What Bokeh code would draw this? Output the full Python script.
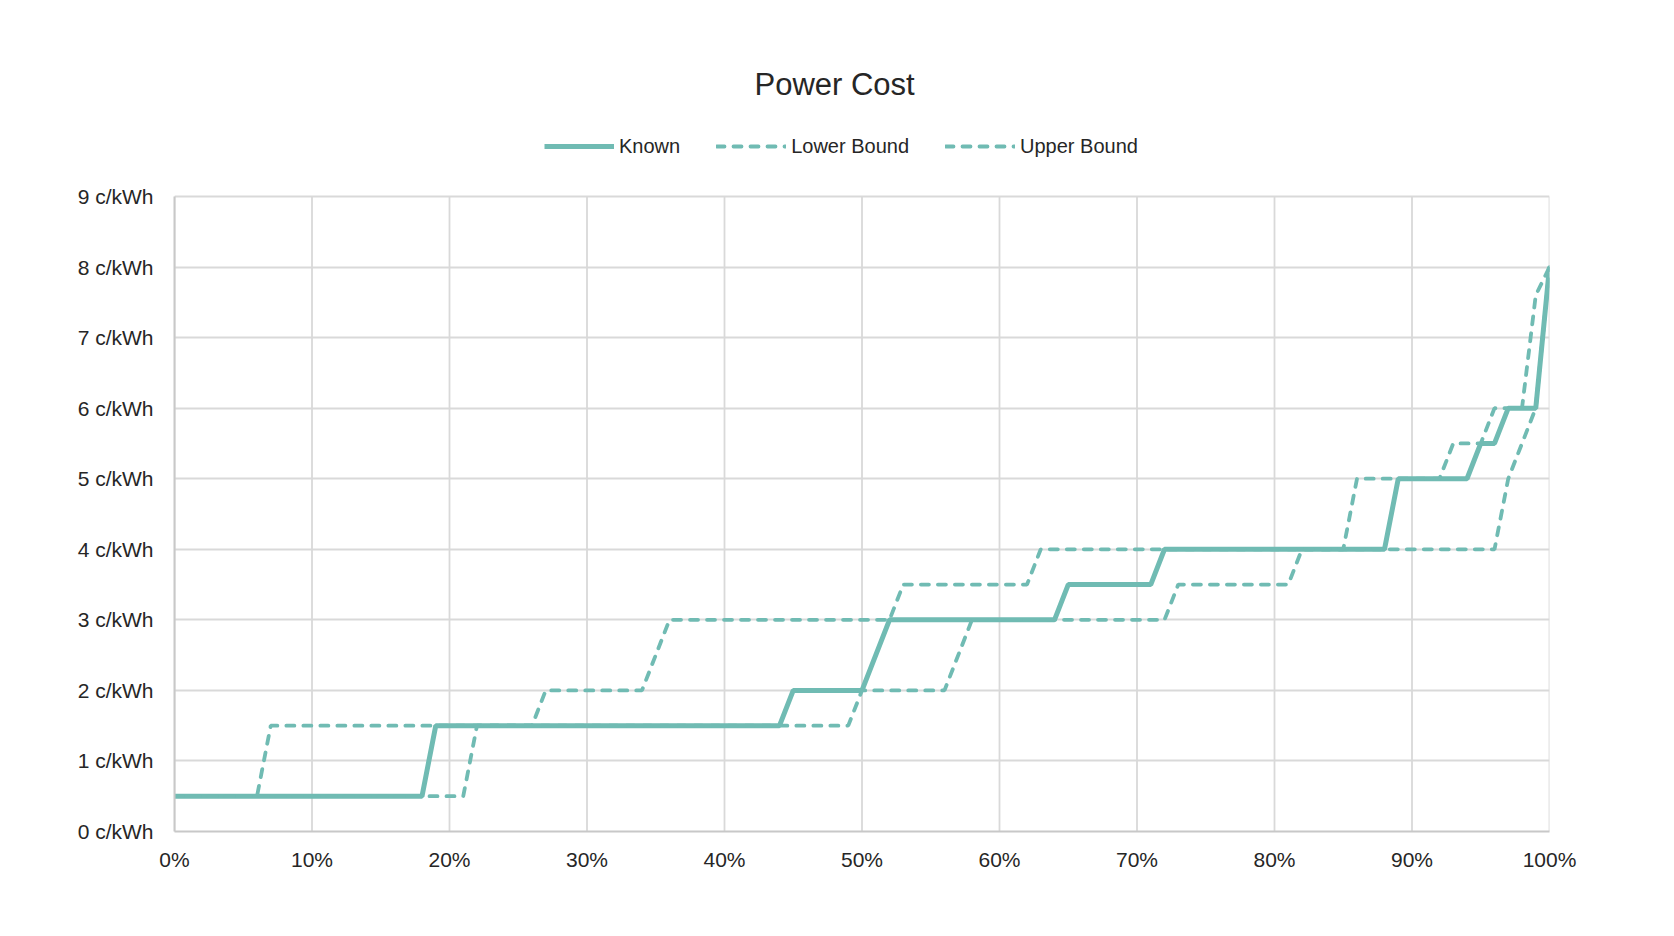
from bokeh.plotting import figure
from bokeh.models import Legend, LegendItem, Title, PrintfTickFormatter, FixedTicker, Range1d
from bokeh.embed import file_html
from bokeh.resources import INLINE

# ---- data (percent of time, c/kWh) ----
known_x = [0, 18, 19, 44, 45, 50, 52, 64, 65, 71, 72, 88, 89, 94, 95, 96, 97, 99, 100]
known_y = [0.5, 0.5, 1.5, 1.5, 2, 2, 3, 3, 3.5, 3.5, 4, 4, 5, 5, 5.5, 5.5, 6, 6, 8]

lower_x = [0, 21, 22, 49, 50, 56, 58, 72, 73, 81, 82, 96, 97, 98, 99, 100]
lower_y = [0.5, 0.5, 1.5, 1.5, 2, 2, 3, 3, 3.5, 3.5, 4, 4, 5, 5.5, 6, 8]

upper_x = [0, 6, 7, 26, 27, 34, 36, 52, 53, 62, 63, 85, 86, 92, 93, 95, 96, 98, 99, 100]
upper_y = [0.5, 0.5, 1.5, 1.5, 2, 2, 3, 3, 3.5, 3.5, 4, 4, 5, 5, 5.5, 5.5, 6, 6, 7.6, 8]

x_ticks = [0, 10, 20, 30, 40, 50, 60, 70, 80, 90, 100]
y_ticks = [0, 1, 2, 3, 4, 5, 6, 7, 8, 9]

FONT = "Liberation Sans"
TEAL = "#70bbb3"
TXT = "#262626"
GRID = "#d9d9d9"

# layout (pixels)
W, H = 1666, 930
LEFT, RIGHT, BOTTOM = 174, 117, 99
TOP_FRAME = 125          # frame extended upward to host the legend
PLOT_TOP = 196           # where the 9 c/kWh line sits
FW = W - LEFT - RIGHT
FH = H - TOP_FRAME - BOTTOM
y_max = y_ticks[-1]
y_top = y_max * FH / (H - BOTTOM - PLOT_TOP)

p = figure(width=W, height=H, output_backend="svg", toolbar_location=None,
           x_range=Range1d(x_ticks[0], x_ticks[-1]), y_range=Range1d(0, y_top),
           min_border_left=LEFT, min_border_right=RIGHT, min_border_top=TOP_FRAME,
           min_border_bottom=BOTTOM, frame_width=FW, frame_height=FH)
p.background_fill_color = "white"
p.border_fill_color = "white"
p.outline_line_color = None

# vertical grid lines limited to the value area
p.xgrid.visible = False
p.segment(x0=x_ticks, y0=[y_ticks[0]] * len(x_ticks), x1=x_ticks, y1=[y_max] * len(x_ticks),
          line_color=GRID, line_width=1.8)

r_known = p.line(known_x, known_y, line_color=TEAL, line_width=5)
r_lower = p.line(lower_x, lower_y, line_color=TEAL, line_width=3.8, line_dash="8 9", line_cap="round")
r_upper = p.line(upper_x, upper_y, line_color=TEAL, line_width=3.8, line_dash="8 9", line_cap="round")

p.xaxis.ticker = FixedTicker(ticks=x_ticks)
p.yaxis.ticker = FixedTicker(ticks=y_ticks)
p.yaxis.bounds = (y_ticks[0], y_max)
p.xaxis.formatter = PrintfTickFormatter(format="%d%%")
p.yaxis.formatter = PrintfTickFormatter(format="%d c/kWh")
for ax in (p.xaxis, p.yaxis):
    ax.major_tick_line_color = None
    ax.minor_tick_line_color = None
    ax.axis_line_color = "#c8c8c8"
    ax.axis_line_width = 2
    ax.major_label_text_font = FONT
    ax.major_label_text_font_size = "21px"
    ax.major_label_text_color = TXT
p.xaxis.major_label_standoff = 10
p.yaxis.major_label_standoff = 15
p.ygrid.grid_line_color = GRID
p.ygrid.grid_line_width = 1.8

legend = Legend(items=[LegendItem(label="Known", renderers=[r_known]),
                       LegendItem(label="Lower Bound", renderers=[r_lower]),
                       LegendItem(label="Upper Bound", renderers=[r_upper])],
                orientation="horizontal", location=(370, 673),
                glyph_width=70, glyph_height=24, label_height=24, label_standoff=5,
                spacing=36, padding=0, margin=0, border_line_color=None,
                background_fill_alpha=0,
                label_text_font=FONT, label_text_font_size="20px", label_text_color=TXT)
p.add_layout(legend, "center")

title = Title(text="Power Cost", text_font=FONT, text_font_size="31px", text_font_style="normal",
              text_color=TXT, align="left", offset=580, standoff=48)
p.add_layout(title, "above")

open("out.html", "w").write(file_html(p, INLINE))
